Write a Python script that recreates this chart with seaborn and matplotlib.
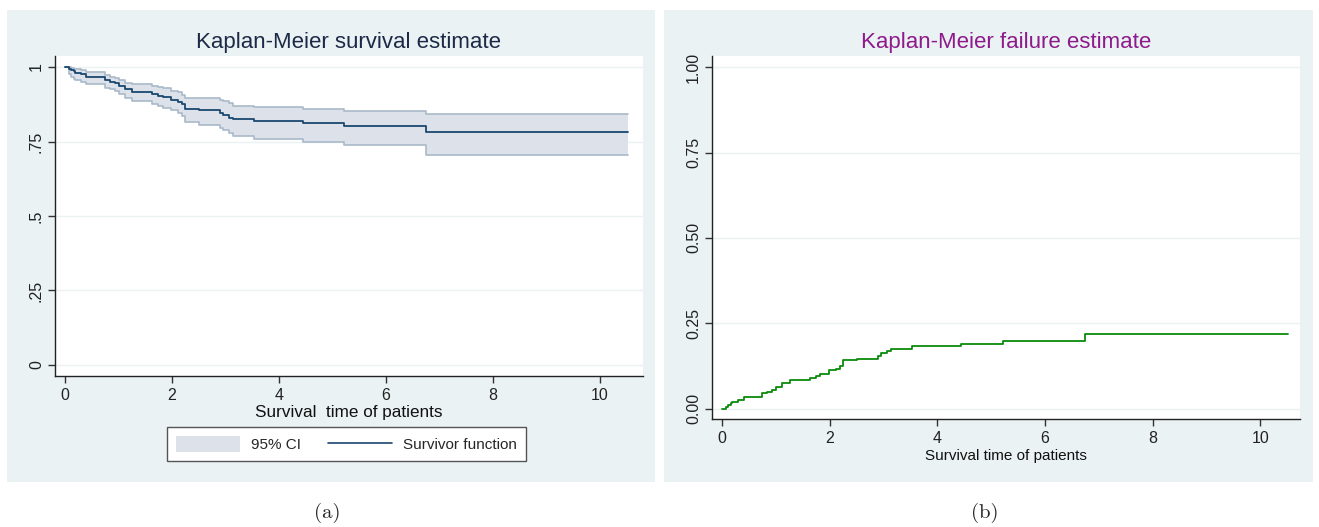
import matplotlib
matplotlib.use("Agg")
import matplotlib.pyplot as plt
from matplotlib.patches import Rectangle, Patch
from matplotlib.lines import Line2D
import numpy as np
import pandas as pd
import seaborn as sns

# Kaplan-Meier estimates: event times, survivor function and 95% CI
times = [0.00, 0.07, 0.12, 0.16, 0.19, 0.30, 0.40, 0.74, 0.84, 0.93, 1.01, 1.12,
         1.26, 1.63, 1.74, 1.83, 1.99, 2.11, 2.19, 2.24, 2.50, 2.89, 2.95, 3.06,
         3.14, 3.53, 4.44, 5.22, 6.75]
survival = [1.000, 0.995, 0.990, 0.985, 0.980, 0.976, 0.967, 0.955, 0.951, 0.945,
            0.936, 0.925, 0.915, 0.910, 0.904, 0.898, 0.888, 0.883, 0.875, 0.858,
            0.855, 0.845, 0.838, 0.830, 0.824, 0.818, 0.811, 0.802, 0.782]
ci_upper = [1.000, 1.000, 0.998, 0.995, 0.992, 0.990, 0.984, 0.972, 0.968, 0.962,
            0.956, 0.948, 0.942, 0.936, 0.932, 0.928, 0.920, 0.915, 0.906, 0.897,
            0.895, 0.889, 0.885, 0.878, 0.870, 0.867, 0.860, 0.853, 0.842]
ci_lower = [1.000, 0.975, 0.968, 0.960, 0.955, 0.950, 0.944, 0.930, 0.925, 0.918,
            0.910, 0.895, 0.886, 0.877, 0.870, 0.862, 0.855, 0.845, 0.835, 0.815,
            0.805, 0.795, 0.788, 0.780, 0.770, 0.760, 0.750, 0.738, 0.705]
last_time = 10.52

left_yticks = [0, 0.25, 0.5, 0.75, 1]
left_yticklabels = ["0", ".25", ".5", ".75", "1"]
right_yticks = [0, 0.25, 0.5, 0.75, 1]
right_yticklabels = ["0.00", "0.25", "0.50", "0.75", "1.00"]
xticks = [0, 2, 4, 6, 8, 10]

# extend each step function to the last follow-up time
km = pd.DataFrame({
    "time": times + [last_time],
    "survival": survival + [survival[-1]],
    "lower": ci_lower + [ci_lower[-1]],
    "upper": ci_upper + [ci_upper[-1]],
})
km["failure"] = 1 - km["survival"]

sns.set_style("ticks")
plt.rcParams["font.family"] = ["Liberation Sans", "DejaVu Sans"]

W, H = 1319, 527
fig = plt.figure(figsize=(W / 100, H / 100), dpi=100)
fig.patch.set_facecolor("white")

panel_bg = "#EAF2F3"
grid_c = "#EAF2F3"
navy = "#1a476f"
band_fill = "#dde2ea"
band_edge = "#a9b9c9"
green = "#0b8a0b"


def fig_rect(x0, y0, x1, y1):
    return [x0 / W, 1 - y1 / H, (x1 - x0) / W, (y1 - y0) / H]


for (x0, y0, x1, y1) in [(7, 10, 655, 482), (664, 10, 1313, 482)]:
    l, b, w, h = fig_rect(x0, y0, x1, y1)
    fig.patches.append(Rectangle((l, b), w, h, transform=fig.transFigure,
                                 facecolor=panel_bg, edgecolor="none", zorder=-5))


def style_axes(ax, yticks, yticklabels):
    ax.set_facecolor("white")
    for s in ["top", "right"]:
        ax.spines[s].set_visible(False)
    for s in ["left", "bottom"]:
        ax.spines[s].set_color("#222222")
        ax.spines[s].set_linewidth(1.0)
    ax.set_xticks(xticks)
    ax.set_yticks(yticks)
    ax.set_yticklabels(yticklabels, rotation=90, va="center")
    ax.tick_params(axis="both", direction="out", length=5, width=1,
                   color="#333333", labelcolor="#222222", labelsize=11.5)
    ax.tick_params(axis="y", pad=3)
    for yv in yticks:
        ax.axhline(yv, color=grid_c, lw=1.0, zorder=0.5)


# (a) survivor function with confidence band
ax1 = fig.add_axes(fig_rect(55, 56, 643, 376))
ax1.fill_between(km["time"], km["lower"], km["upper"], step="post",
                 color=band_fill, lw=0, zorder=1)
sns.lineplot(data=km, x="time", y="upper", ax=ax1, drawstyle="steps-post",
             color=band_edge, lw=1.2, zorder=2)
sns.lineplot(data=km, x="time", y="lower", ax=ax1, drawstyle="steps-post",
             color=band_edge, lw=1.2, zorder=2)
sns.lineplot(data=km, x="time", y="survival", ax=ax1, drawstyle="steps-post",
             color=navy, lw=1.3, zorder=3)
ax1.set_xlim(-0.187, 10.804)
ax1.set_ylim(-0.037, 1.037)
style_axes(ax1, left_yticks, left_yticklabels)
ax1.set_ylabel("")
ax1.set_xlabel("Survival  time of patients", fontsize=12.3, color="#111111", labelpad=1.5)
ax1.set_title("Kaplan-Meier survival estimate", fontsize=16, color="#1c2a48", pad=6)

handles = [Patch(facecolor=band_fill, edgecolor="none"),
           Line2D([], [], color=navy, lw=1.2)]
leg = ax1.legend(handles, ["95% CI", "Survivor function"], ncol=2,
                 loc="center", bbox_to_anchor=(346.5 / W, 1 - 444 / H),
                 bbox_transform=fig.transFigure, frameon=True, fancybox=False,
                 fontsize=11, handlelength=4.2, handleheight=1.2,
                 columnspacing=1.8, handletextpad=0.7, borderpad=0.6,
                 borderaxespad=0)
leg.get_frame().set_edgecolor("#555555")
leg.get_frame().set_linewidth(1.0)
leg.get_frame().set_facecolor("white")
leg.get_frame().set_alpha(1)

# (b) failure function
ax2 = fig.add_axes(fig_rect(712, 56, 1300, 419))
sns.lineplot(data=km, x="time", y="failure", ax=ax2, drawstyle="steps-post",
             color=green, lw=1.3, zorder=3)
ax2.set_xlim(-0.186, 10.74)
ax2.set_ylim(-0.0305, 1.033)
style_axes(ax2, right_yticks, right_yticklabels)
ax2.set_ylabel("")
ax2.set_xlabel("Survival time of patients", fontsize=11, color="#111111", labelpad=2.5)
ax2.set_title("Kaplan-Meier failure estimate", fontsize=16, color="#8e1a8c", pad=6)

# subfigure captions
fig.text(327 / W, 1 - 513 / H, "(a)", ha="center", va="center",
         fontsize=15, family="cmr10")
fig.text(985 / W, 1 - 513 / H, "(b)", ha="center", va="center",
         fontsize=15, family="cmr10")

fig.savefig("out.png", dpi=100, facecolor="white")
